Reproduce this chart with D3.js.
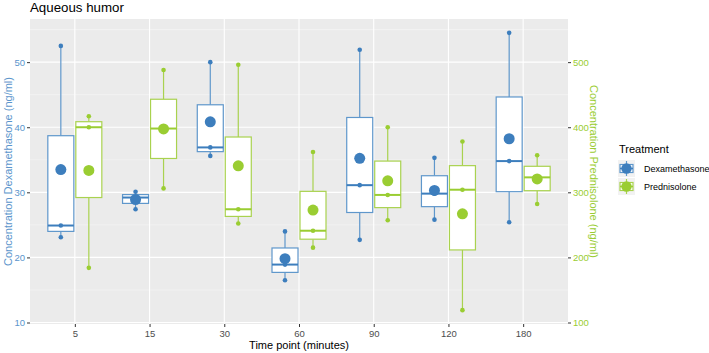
<!doctype HTML>
<html>
<head>
    <style>
        body { margin: 0; background: #ffffff; }
        text { font-family: "Liberation Sans", Arial, sans-serif; }
    </style>
    <script src="https://d3js.org/d3.v7.min.js"></script>
</head>
<body>
<div id="chart"></div>
<script>

    // time points (minutes) on the x axis
    var timePoints = ["5", "15", "30", "60", "90", "120", "180"];

    // raw measurements, three per time point
    var dexValues = [          // ng/ml, left axis
        [23.1, 24.9, 52.5],
        [27.4, 29.2, 30.1],
        [35.6, 36.9, 50.0],
        [16.5, 18.9, 24.0],
        [22.7, 31.1, 51.9],
        [25.8, 29.8, 35.3],
        [25.4, 34.8, 54.5]
    ];
    var predValues = [         // ng/ml, right axis
        [184, 400, 417],
        [306, 398, 488],
        [252, 274, 496],
        [215, 241, 362],
        [257, 296, 400],
        [119, 304, 378],
        [282, 323, 357]
    ];

    var leftTicks = [10, 20, 30, 40, 50];
    var rightTicks = [100, 200, 300, 400, 500];
    var minorTicks = [15, 25, 35, 45, 55];
    var treatments = ["Dexamethasone", "Prednisolone"];

    var dexColor = "#3d7ebd";
    var dexLine = "#5f97cb";
    var dexText = "#5b95cc";
    var predColor = "#9acd32";
    var predLine = "#a9d24f";
    var predText = "#9acd32";

    var canvasWidth = 709;
    var canvasHeight = 353;
    var panel = {left: 30, right: 568, top: 19, bottom: 324};

    var svg = d3.select("#chart").append("svg")
        .attr("width", canvasWidth)
        .attr("height", canvasHeight);

    // the prednisolone axis is the dexamethasone axis times 10
    var ratio = 10;

    // gather both series on the common (left) scale
    var groups = [];
    timePoints.forEach(function(t, i) {
        groups.push({time: t, treat: 0, vals: dexValues[i].slice()});
        groups.push({time: t, treat: 1, vals: predValues[i].map(function(v){ return v / ratio; })});
    });
    groups.forEach(function(g) {
        var s = g.vals.slice().sort(d3.ascending);
        g.min = s[0];
        g.q1 = d3.quantile(s, 0.25);
        g.med = d3.quantile(s, 0.5);
        g.q3 = d3.quantile(s, 0.75);
        g.max = s[s.length - 1];
        g.mean = d3.mean(s);
    });

    var allVals = d3.merge(groups.map(function(g){ return g.vals; }));
    var lo = d3.min(allVals), hi = d3.max(allVals), pad = (hi - lo) * 0.05;

    var y = d3.scaleLinear().domain([lo - pad, hi + pad]).range([panel.bottom, panel.top]);
    var x = d3.scalePoint().domain(timePoints)
        .range([panel.left, panel.right]).padding(0.6);
    var dodge = 14;
    var boxW = 26;

    // panel background and grid
    svg.append("rect")
        .attr("x", panel.left).attr("y", panel.top)
        .attr("width", panel.right - panel.left)
        .attr("height", panel.bottom - panel.top)
        .attr("fill", "#ebebeb");

    svg.append("g").selectAll("line")
        .data(minorTicks.filter(function(v){ return y(v) > panel.top; }))
        .join("line")
        .attr("x1", panel.left).attr("x2", panel.right)
        .attr("y1", function(d){ return y(d); }).attr("y2", function(d){ return y(d); })
        .attr("stroke", "#f6f6f6").attr("stroke-width", 0.6);

    svg.append("g").selectAll("line")
        .data(leftTicks)
        .join("line")
        .attr("x1", panel.left).attr("x2", panel.right)
        .attr("y1", function(d){ return y(d); }).attr("y2", function(d){ return y(d); })
        .attr("stroke", "#ffffff").attr("stroke-width", 1.1);

    svg.append("g").selectAll("line")
        .data(timePoints)
        .join("line")
        .attr("x1", function(d){ return x(d); }).attr("x2", function(d){ return x(d); })
        .attr("y1", panel.top).attr("y2", panel.bottom)
        .attr("stroke", "#ffffff").attr("stroke-width", 1.1);

    // axes
    var leftAxis = svg.append("g")
        .attr("transform", "translate(" + panel.left + ",0)")
        .call(d3.axisLeft(y).tickValues(leftTicks).tickSize(3).tickPadding(2));
    leftAxis.select(".domain").remove();
    leftAxis.selectAll("line").attr("stroke", "#333333");
    leftAxis.selectAll("text").attr("fill", dexText).attr("font-size", "9.5px")
        .attr("font-family", "Liberation Sans, Arial, sans-serif");

    var yRight = d3.scaleLinear()
        .domain(y.domain().map(function(v){ return v * ratio; }))
        .range(y.range());
    var rightAxis = svg.append("g")
        .attr("transform", "translate(" + panel.right + ",0)")
        .call(d3.axisRight(yRight).tickValues(rightTicks).tickSize(3).tickPadding(2));
    rightAxis.select(".domain").remove();
    rightAxis.selectAll("line").attr("stroke", "#333333");
    rightAxis.selectAll("text").attr("fill", predText).attr("font-size", "9.5px")
        .attr("font-family", "Liberation Sans, Arial, sans-serif");

    var bottomAxis = svg.append("g")
        .attr("transform", "translate(0," + panel.bottom + ")")
        .call(d3.axisBottom(x).tickSize(3).tickPadding(3));
    bottomAxis.select(".domain").remove();
    bottomAxis.selectAll("line").attr("stroke", "#333333");
    bottomAxis.selectAll("text").attr("fill", "#4d4d4d").attr("font-size", "9.5px")
        .attr("font-family", "Liberation Sans, Arial, sans-serif");

    // titles
    svg.append("text")
        .attr("x", panel.left).attr("y", 12)
        .attr("font-size", "13.3px").attr("fill", "#000000")
        .text("Aqueous humor");

    svg.append("text")
        .attr("x", (panel.left + panel.right) / 2).attr("y", 349)
        .attr("text-anchor", "middle")
        .attr("font-size", "11px").attr("fill", "#000000")
        .text("Time point (minutes)");

    svg.append("text")
        .attr("transform", "translate(12," + ((panel.top + panel.bottom) / 2) + ") rotate(-90)")
        .attr("text-anchor", "middle")
        .attr("font-size", "11px").attr("fill", dexText)
        .text("Concentration Dexamethasone (ng/ml)");

    svg.append("text")
        .attr("transform", "translate(590," + ((panel.top + panel.bottom) / 2) + ") rotate(90)")
        .attr("text-anchor", "middle")
        .attr("font-size", "11px").attr("fill", predText)
        .text("Concentration Prednisolone (ng/ml)");

    // boxplots
    function cx(g) {
        return x(g.time) + (g.treat === 0 ? -dodge : dodge);
    }
    function lineCol(g) { return g.treat === 0 ? dexLine : predLine; }
    function dotCol(g) { return g.treat === 0 ? dexColor : predColor; }

    var boxes = svg.append("g").selectAll("g")
        .data(groups)
        .join("g");

    boxes.append("line")
        .attr("x1", cx).attr("x2", cx)
        .attr("y1", function(g){ return y(g.max); })
        .attr("y2", function(g){ return y(g.q3); })
        .attr("stroke", lineCol).attr("stroke-width", 1.2);
    boxes.append("line")
        .attr("x1", cx).attr("x2", cx)
        .attr("y1", function(g){ return y(g.q1); })
        .attr("y2", function(g){ return y(g.min); })
        .attr("stroke", lineCol).attr("stroke-width", 1.2);
    boxes.append("rect")
        .attr("x", function(g){ return cx(g) - boxW / 2; })
        .attr("y", function(g){ return y(g.q3); })
        .attr("width", boxW)
        .attr("height", function(g){ return y(g.q1) - y(g.q3); })
        .attr("fill", "#ffffff")
        .attr("stroke", lineCol).attr("stroke-width", 1.2);
    boxes.append("line")
        .attr("x1", function(g){ return cx(g) - boxW / 2; })
        .attr("x2", function(g){ return cx(g) + boxW / 2; })
        .attr("y1", function(g){ return y(g.med); })
        .attr("y2", function(g){ return y(g.med); })
        .attr("stroke", dotCol).attr("stroke-width", 2);

    // raw points
    boxes.each(function(g) {
        d3.select(this).selectAll("circle.pt")
            .data(g.vals)
            .join("circle")
            .attr("class", "pt")
            .attr("cx", cx(g))
            .attr("cy", function(v){ return y(v); })
            .attr("r", 2.3)
            .attr("fill", dotCol(g));
    });

    // means
    boxes.append("circle")
        .attr("cx", cx)
        .attr("cy", function(g){ return y(g.mean); })
        .attr("r", 5.5)
        .attr("fill", dotCol);

    // legend
    svg.append("text")
        .attr("x", 619).attr("y", 153)
        .attr("font-size", "11px").attr("fill", "#000000")
        .text("Treatment");

    var legend = svg.append("g").selectAll("g")
        .data(treatments)
        .join("g")
        .attr("transform", function(d, i){ return "translate(618," + (160 + i * 18) + ")"; });

    legend.append("rect")
        .attr("width", 17).attr("height", 17)
        .attr("fill", "#f2f2f2");
    legend.append("line")
        .attr("x1", 8.5).attr("x2", 8.5).attr("y1", 1).attr("y2", 16)
        .attr("stroke", function(d, i){ return i === 0 ? dexLine : predLine; })
        .attr("stroke-width", 1.2);
    legend.append("rect")
        .attr("x", 2).attr("y", 4.5).attr("width", 13).attr("height", 8)
        .attr("fill", "#ffffff")
        .attr("stroke", function(d, i){ return i === 0 ? dexLine : predLine; })
        .attr("stroke-width", 1.2);
    legend.append("line")
        .attr("x1", 2).attr("x2", 15).attr("y1", 8.5).attr("y2", 8.5)
        .attr("stroke", function(d, i){ return i === 0 ? dexColor : predColor; })
        .attr("stroke-width", 1.6);
    legend.append("circle")
        .attr("cx", 8.5).attr("cy", 8.5).attr("r", 5.2)
        .attr("fill", function(d, i){ return i === 0 ? dexColor : predColor; });
    legend.append("text")
        .attr("x", 26).attr("y", 11.5)
        .attr("font-size", "9px").attr("fill", "#000000")
        .text(function(d){ return d; });

</script>
</body>
</html>
